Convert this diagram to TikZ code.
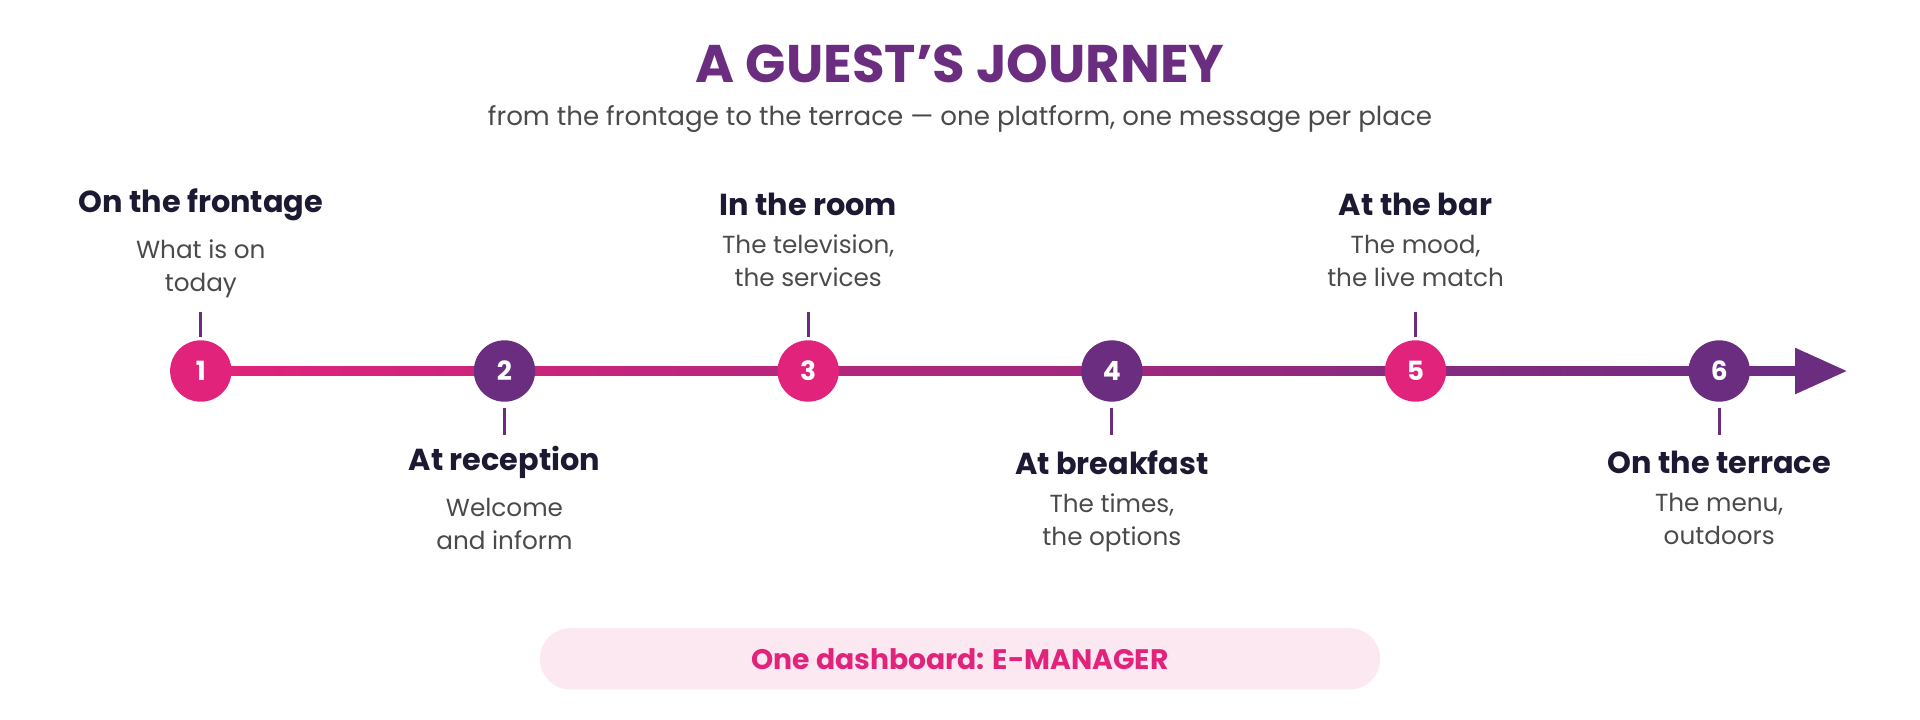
\documentclass[tikz,border=0pt]{standalone}
\usepackage{fontspec}
\setmainfont{Poppins}
\usetikzlibrary{positioning,calc}
\definecolor{gpink}{HTML}{E2237B}
\definecolor{gpurple}{HTML}{6B2D80}
\definecolor{gdark}{HTML}{1C1A33}
\definecolor{ggrey}{HTML}{4A4A4A}
\definecolor{gpill}{HTML}{FBE8F1}
\begin{document}
\begin{tikzpicture}[x=0.347pt,y=-0.347pt]
    \tikzstyle{every node} = [inner sep=0pt]
    \tikzstyle{stopdot} = [circle, minimum size=17.4pt, text=white, font=\bfseries\fontsize{7.5}{9}\selectfont]
    \tikzstyle{placename} = [text=gdark, font=\bfseries\fontsize{8.6}{10}\selectfont]
    \tikzstyle{placetext} = [text=ggrey, align=center, font=\fontsize{7}{9.4}\selectfont]
    \tikzstyle{stoptick} = [gpurple, line width=0.8pt]
    \useasboundingbox (0,0) rectangle (1568,588);
    % headings
    \node[text=gpurple, font=\bfseries\fontsize{15}{18}\selectfont] (title) at (784,52) {A GUEST’S JOURNEY};
    \node[text=ggrey, font=\fontsize{7.4}{9}\selectfont] (subtitle) at (784,97) {from the frontage to the terrace — one platform, one message per place};
    % timeline
    \coordinate (lineEnd) at (1470,303);
    \coordinate (tipEnd) at (1508,303);
    \shade[left color=gpink, right color=gpurple] (164,299) rectangle (1470,307);
    \fill[gpurple] ($(lineEnd)+(-4,-19)$) -- (tipEnd) -- ($(lineEnd)+(-4,19)$) -- cycle;
    % stops
    \foreach \i/\x/\col in {1/164/gpink,2/412/gpurple,3/660/gpink,4/908/gpurple,5/1156/gpink,6/1404/gpurple}
        \node[stopdot, fill=\col] (stop\i) at (\x,303) {\i};
    % places above
    \foreach \i/\name/\txt in {{1/On the frontage/What is on\\today}, {3/In the room/The television,\\the services}, {5/At the bar/The mood,\\the live match}}{
        \draw[stoptick] ($(stop\i)+(0,-28)$) coordinate (tickA\i) -- ++(0,-20);
        \node[placename] (place\i) at ($(stop\i)+(0,-136)$) {\name};
        \node[placetext, below=5pt of place\i] (what\i) {\txt};
    }
    % places below
    \foreach \i/\name/\txt in {{2/At reception/Welcome\\and inform}, {4/At breakfast/The times,\\the options}, {6/On the terrace/The menu,\\outdoors}}{
        \draw[stoptick] ($(stop\i)+(0,30)$) coordinate (tickB\i) -- ++(0,22);
        \node[placename] (place\i) at ($(stop\i)+(0,75)$) {\name};
        \node[placetext, below=5pt of place\i] (what\i) {\txt};
    }
    % dashboard
    \fill[gpill, rounded corners=8.5pt] (441,513) rectangle (1127,563);
    \node[text=gpink, font=\bfseries\fontsize{8}{10}\selectfont] (dashboard) at (784,538) {One dashboard: E-MANAGER};
\end{tikzpicture}
\end{document}
